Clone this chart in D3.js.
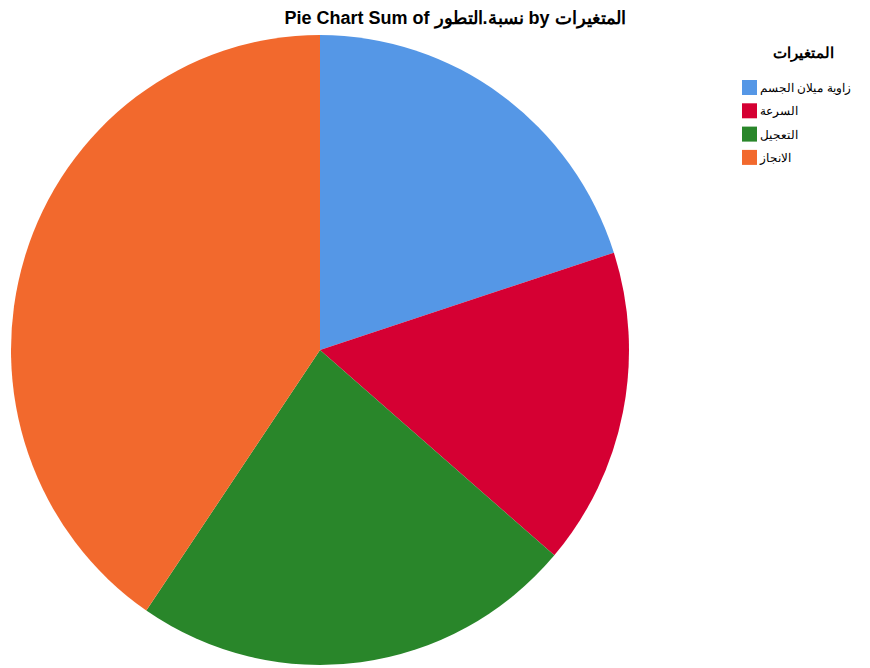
<!DOCTYPE html>
<html>
<head>
<meta charset="utf-8">
<script src="https://cdn.jsdelivr.net/npm/d3@7"></script>
<style>
  body { margin: 0; background: #fff; }
  svg { display: block; }
</style>
</head>
<body>
<script>
// data (percent of whole)
var categories = ["زاوية ميلان الجسم", "السرعة", "التعجيل", "الانجاز"];
var values = [20.0, 16.3, 23.2, 40.5];
var colors = ["#5597e6", "#d50033", "#29862a", "#f2692d"];
var titleText = "Pie Chart Sum of نسبة.التطور by المتغيرات";
var legendTitle = "المتغيرات";

var width = 870, height = 668;
var cx = 320, cy = 350, rx = 309, ry = 315;

var svg = d3.select("body").append("svg")
  .attr("width", width)
  .attr("height", height)
  .style("font-family", "'Liberation Sans', Arial, sans-serif");

// title
svg.append("text")
  .attr("x", 455)
  .attr("y", 24)
  .attr("text-anchor", "middle")
  .attr("font-size", "18px")
  .attr("font-weight", "bold")
  .attr("direction", "ltr")
  .attr("fill", "#000")
  .text(titleText);

// pie (slightly taller than wide, like the original)
var pie = d3.pie().sort(null).value(function(d) { return d; });
var arc = d3.arc().innerRadius(0).outerRadius(ry);

var g = svg.append("g")
  .attr("transform", "translate(" + cx + "," + cy + ") scale(" + (rx / ry) + ",1)");

g.selectAll("path")
  .data(pie(values))
  .enter().append("path")
  .attr("d", arc)
  .attr("fill", function(d, i) { return colors[i]; });

// legend
var legend = svg.append("g").attr("transform", "translate(742,0)");

legend.append("text")
  .attr("x", 61)
  .attr("y", 58)
  .attr("text-anchor", "middle")
  .attr("font-size", "15px")
  .attr("font-weight", "bold")
  .text(legendTitle);

var items = legend.selectAll(".item")
  .data(categories)
  .enter().append("g")
  .attr("class", "item")
  .attr("transform", function(d, i) { return "translate(0," + (80 + i * 23.3) + ")"; });

items.append("rect")
  .attr("width", 15)
  .attr("height", 15)
  .attr("fill", function(d, i) { return colors[i]; });

items.append("text")
  .attr("x", 18)
  .attr("y", 12)
  .attr("font-size", "12px")
  .attr("direction", "ltr")
  .text(function(d) { return d; });
</script>
</body>
</html>
